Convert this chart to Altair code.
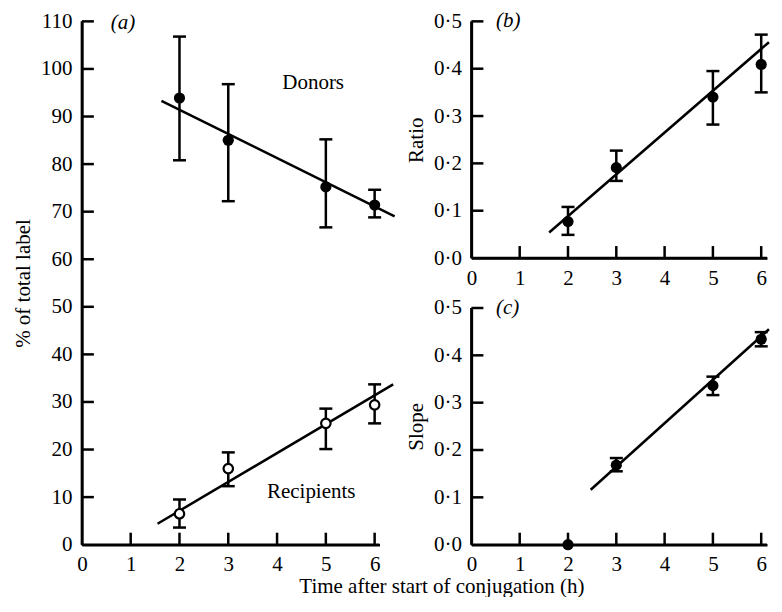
import altair as alt
import pandas as pd

FONT = "Liberation Serif"

# ---------------- data ----------------
time = [2, 3, 5, 6]
donors = [93.9, 85.0, 75.2, 71.4]
donors_lo = [80.8, 72.2, 66.7, 68.8]
donors_hi = [106.8, 96.8, 85.2, 74.6]
recip = [6.5, 16.0, 25.5, 29.4]
recip_lo = [3.6, 12.3, 20.1, 25.5]
recip_hi = [9.5, 19.4, 28.6, 33.7]
donors_fit_x = [1.63, 6.41]
donors_fit_y = [93.3, 69.0]
recip_fit_x = [1.55, 6.38]
recip_fit_y = [4.4, 33.7]

ratio = [0.077, 0.191, 0.340, 0.409]
ratio_lo = [0.049, 0.163, 0.282, 0.350]
ratio_hi = [0.108, 0.227, 0.395, 0.472]
ratio_fit_x = [1.61, 6.16]
ratio_fit_y = [0.054, 0.456]

slope_time = [2, 3, 5, 6]
slope = [0.0, 0.168, 0.336, 0.434]
slope_err_time = [3, 5, 6]
slope_lo = [0.155, 0.316, 0.419]
slope_hi = [0.183, 0.355, 0.449]
slope_fit_x = [2.47, 6.16]
slope_fit_y = [0.116, 0.455]

x_labels = [0, 1, 2, 3, 4, 5, 6]
x_tick_marks = [1, 2, 3, 4, 5, 6]
a_y_labels = [0, 10, 20, 30, 40, 50, 60, 70, 80, 90, 100, 110]
a_y_tick_marks = [10, 20, 30, 40, 50, 60, 70, 80, 90, 100, 110]
bc_y_labels = [0.0, 0.1, 0.2, 0.3, 0.4, 0.5]
bc_y_tick_marks = [0.1, 0.2, 0.3, 0.4, 0.5]

TICK_PX = 12
LW = 2.5


def panel(width, height, xmax, ymax, y_labels, y_tick_marks, ytitle, ylabel_expr,
          series, fits, texts, x_title=None):
    x_axis_kw = dict(values=x_labels, format="d", ticks=False, labelPadding=9,
                     domainWidth=LW, domainColor="black", labelFont=FONT, labelFontSize=21,
                     labelColor="black", grid=False, labelFlush=False)
    if x_title:
        x_axis_kw.update(title=x_title, titleFont=FONT, titleFontSize=21, titleFontWeight="normal",
                         titleColor="black", titleX=360, titleY=48, titleBaseline="alphabetic")
    else:
        x_axis_kw.update(title=None)
    y_axis_kw = dict(values=y_labels, ticks=False, labelPadding=10,
                     domainWidth=LW, domainColor="black", labelFont=FONT, labelFontSize=21,
                     labelColor="black", grid=False, labelFlush=False, title=ytitle,
                     titleFont=FONT, titleFontSize=21, titleFontWeight="normal",
                     titleColor="black", titlePadding=7)
    if ylabel_expr:
        y_axis_kw.update(labelExpr=ylabel_expr)
    xs = alt.Scale(domain=[0, xmax], nice=False, zero=False)
    ys = alt.Scale(domain=[0, ymax], nice=False, zero=False)

    def X(f):
        return alt.X(f, type="quantitative", scale=xs, axis=alt.Axis(**x_axis_kw))

    def Y(f):
        return alt.Y(f, type="quantitative", scale=ys, axis=alt.Axis(**y_axis_kw))

    # inward tick length in data units of each axis
    x_len = TICK_PX * xmax / width
    y_len = TICK_PX * ymax / height

    layers = []
    for fx, fy in fits:
        fd = pd.DataFrame({"t": fx, "v": fy})
        layers.append(alt.Chart(fd).mark_line(color="black", strokeWidth=LW).encode(
            x=X("t"), y=Y("v")))
    for s in series:
        if s.get("err_t"):
            ed = pd.DataFrame({"t": s["err_t"], "lo": s["lo"], "hi": s["hi"]})
            layers.append(alt.Chart(ed).mark_rule(color="black", strokeWidth=LW).encode(
                x=X("t"), y=Y("lo"), y2="hi"))
            for col in ("lo", "hi"):
                layers.append(alt.Chart(ed).mark_tick(color="black", orient="horizontal",
                                                      size=13, thickness=LW, opacity=1).encode(
                    x=X("t"), y=Y(col)))
        pdf = pd.DataFrame({"t": s["t"], "v": s["v"]})
        if s["filled"]:
            m = alt.Chart(pdf).mark_point(shape="circle", filled=True, color="black",
                                          size=125, opacity=1)
        else:
            m = alt.Chart(pdf).mark_point(shape="circle", filled=True, fill="white",
                                          stroke="black", strokeWidth=2.2, size=90, opacity=1)
        layers.append(m.encode(x=X("t"), y=Y("v")))
    for tx, ty, label, style, align in texts:
        td = pd.DataFrame({"t": [tx], "v": [ty], "label": [label]})
        layers.append(alt.Chart(td).mark_text(font=FONT, fontSize=21, fontStyle=style,
                                              color="black", align=align,
                                              baseline="middle").encode(
            x=X("t"), y=Y("v"), text="label:N"))
    # axis lines and inward ticks, drawn on top
    ya = pd.DataFrame({"t": [0.0], "lo": [0.0], "hi": [ymax]})
    layers.append(alt.Chart(ya).mark_rule(color="black", strokeWidth=LW).encode(
        x=X("t"), y=Y("lo"), y2="hi"))
    xa = pd.DataFrame({"v": [0.0], "lo": [0.0], "hi": [xmax]})
    layers.append(alt.Chart(xa).mark_rule(color="black", strokeWidth=LW).encode(
        y=Y("v"), x=X("lo"), x2="hi"))
    xt = pd.DataFrame({"t": x_tick_marks, "lo": [0.0] * len(x_tick_marks),
                       "hi": [y_len] * len(x_tick_marks)})
    layers.append(alt.Chart(xt).mark_rule(color="black", strokeWidth=LW).encode(
        x=X("t"), y=Y("lo"), y2="hi"))
    yt = pd.DataFrame({"v": y_tick_marks, "lo": [0.0] * len(y_tick_marks),
                       "hi": [x_len] * len(y_tick_marks)})
    layers.append(alt.Chart(yt).mark_rule(color="black", strokeWidth=LW).encode(
        y=Y("v"), x=X("lo"), x2="hi"))
    return alt.layer(*layers).properties(width=width, height=height)


panel_a = panel(
    298, 524, 6.1, 110, a_y_labels, a_y_tick_marks, "% of total label", None,
    series=[
        dict(t=time, v=donors, err_t=time, lo=donors_lo, hi=donors_hi, filled=True),
        dict(t=time, v=recip, err_t=time, lo=recip_lo, hi=recip_hi, filled=False),
    ],
    fits=[(donors_fit_x, donors_fit_y), (recip_fit_x, recip_fit_y)],
    texts=[(0.59, 109.6, "(a)", "italic", "left"),
           (4.74, 97, "Donors", "normal", "center"),
           (4.7, 11.1, "Recipients", "normal", "center")],
    x_title="Time after start of conjugation (h)",
)

DOT_EXPR = "replace(format(datum.value, '.1f'), '.', '·')"

panel_b = panel(
    296, 237, 6.12, 0.5, bc_y_labels, bc_y_tick_marks, "Ratio", DOT_EXPR,
    series=[dict(t=time, v=ratio, err_t=time, lo=ratio_lo, hi=ratio_hi, filled=True)],
    fits=[(ratio_fit_x, ratio_fit_y)],
    texts=[(0.51, 0.5, "(b)", "italic", "left")],
)

panel_c = panel(
    296, 237, 6.12, 0.5, bc_y_labels, bc_y_tick_marks, "Slope", DOT_EXPR,
    series=[dict(t=slope_time, v=slope, err_t=slope_err_time, lo=slope_lo, hi=slope_hi,
                 filled=True)],
    fits=[(slope_fit_x, slope_fit_y)],
    texts=[(0.51, 0.5, "(c)", "italic", "left")],
)

right = alt.vconcat(panel_b, panel_c, spacing=50, bounds="flush")
chart = alt.hconcat(panel_a, right, spacing=92, bounds="flush").properties(
    padding={"left": 4, "top": 2, "right": 0, "bottom": 0},
    background="white",
).configure_view(stroke="transparent", strokeWidth=0)

chart.save("out.html", embed_options={"renderer": "svg", "actions": False})
